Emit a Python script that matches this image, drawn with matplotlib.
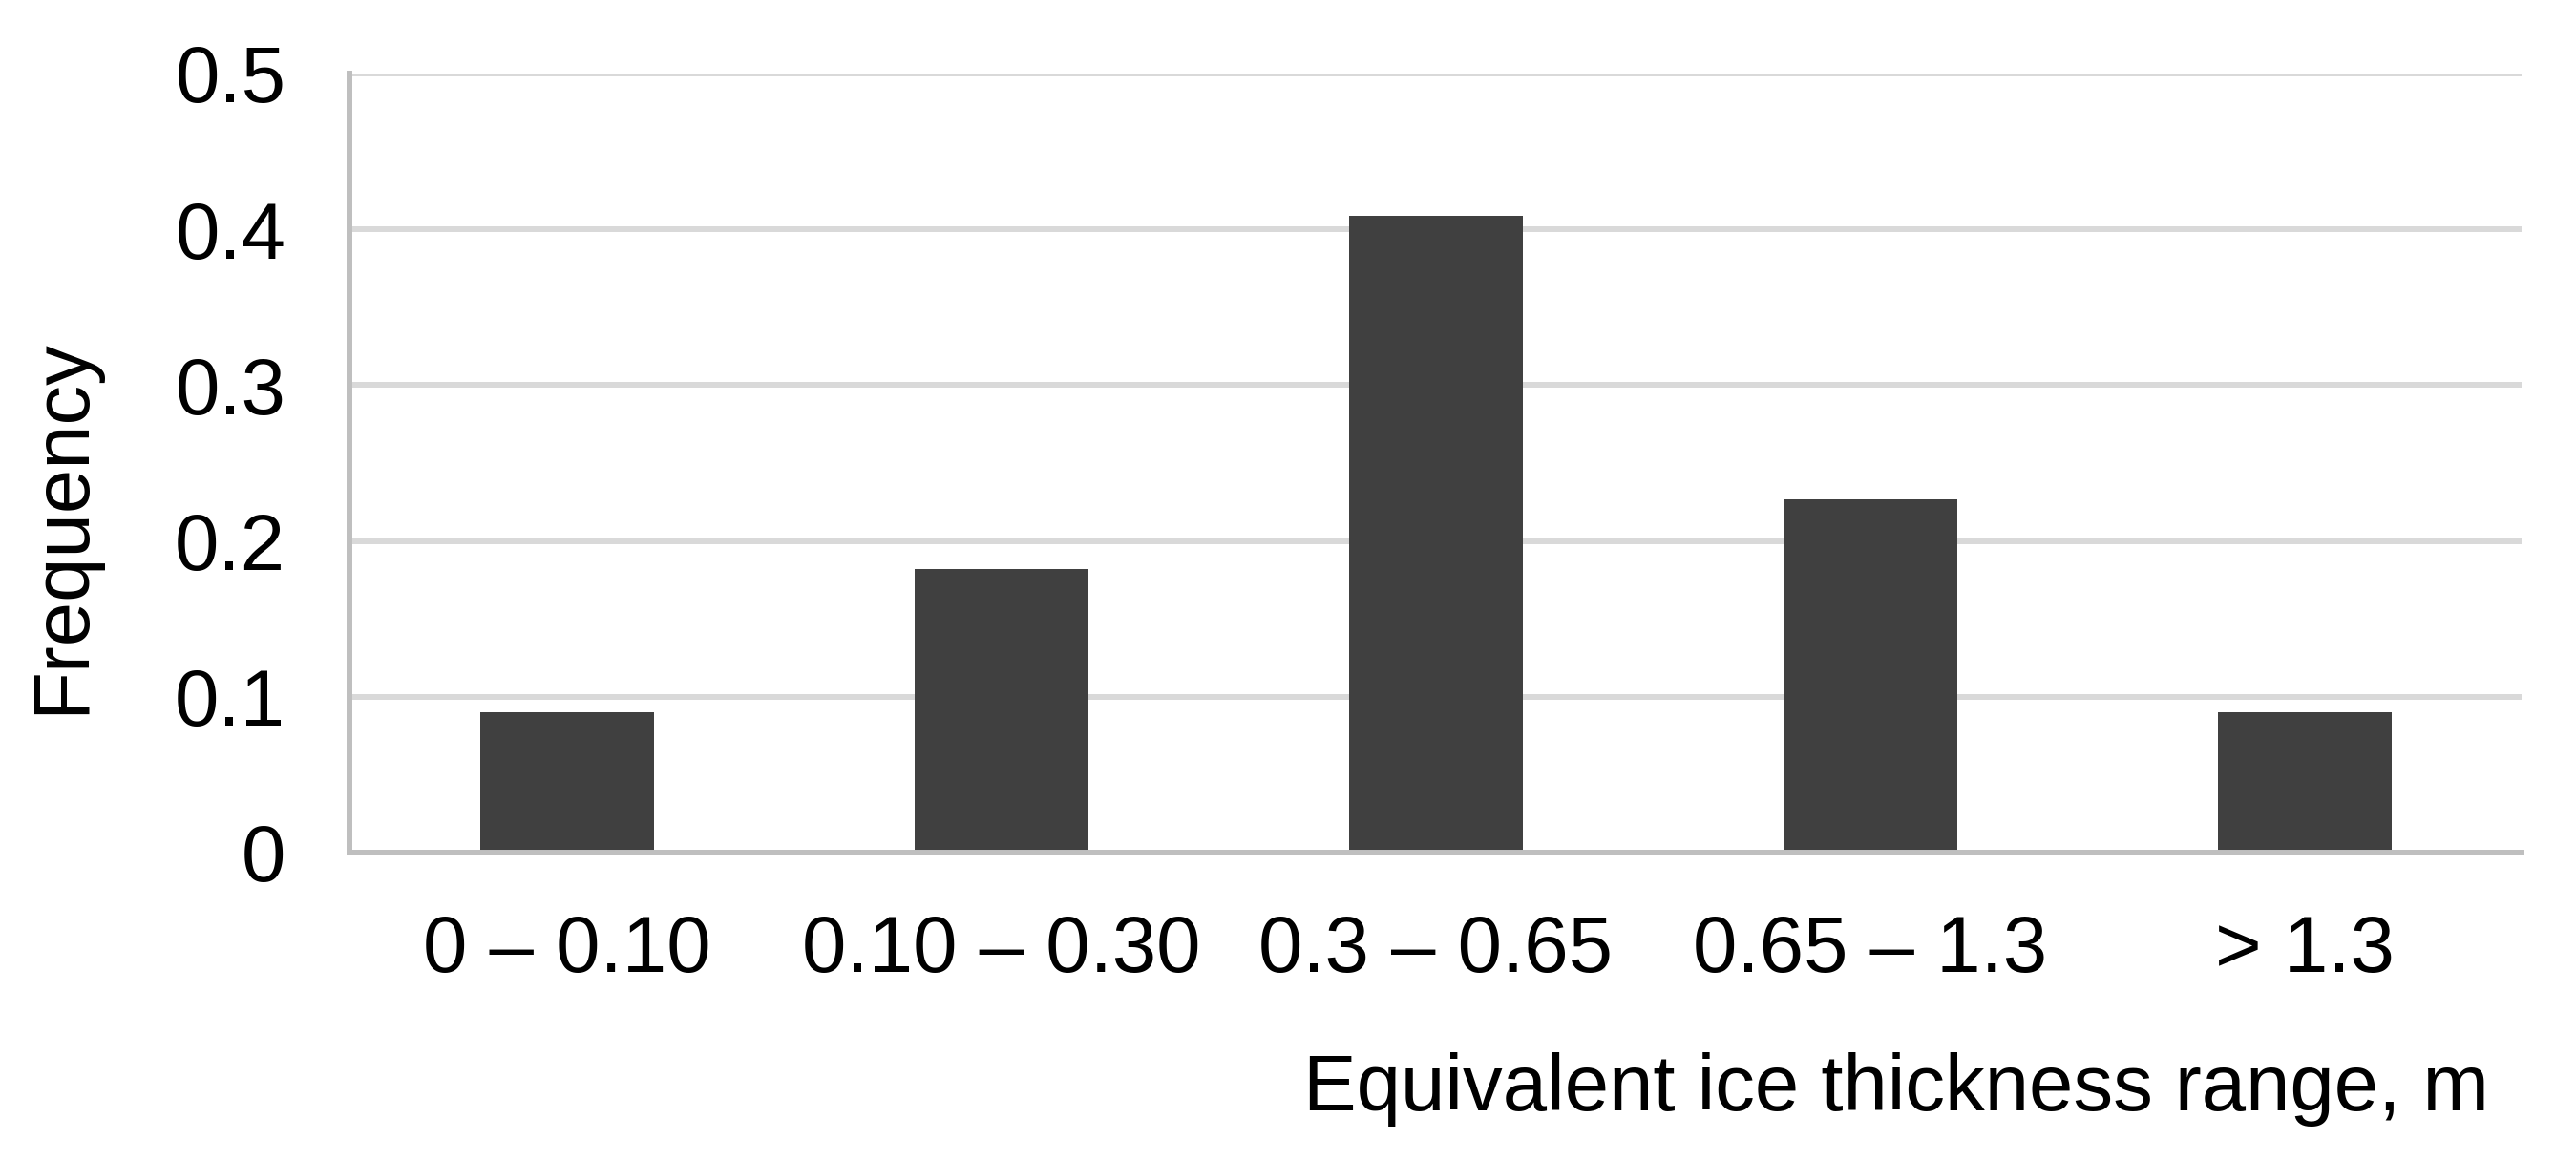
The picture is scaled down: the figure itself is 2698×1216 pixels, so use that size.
import matplotlib
matplotlib.use("Agg")
import matplotlib.pyplot as plt

categories = ["0 – 0.10", "0.10 – 0.30", "0.3 – 0.65", "0.65 – 1.3", "> 1.3"]
frequency = [0.09, 0.182, 0.409, 0.227, 0.09]
yticks = [0, 0.1, 0.2, 0.3, 0.4, 0.5]
ytick_labels = ["0", "0.1", "0.2", "0.3", "0.4", "0.5"]

plt.rcParams['font.family'] = ['Liberation Sans', 'DejaVu Sans']

fig = plt.figure(figsize=(26.98, 12.16), dpi=100)
ax = fig.add_axes([366/2698, 1-893/1216, (2641-366)/2698, (893-77)/1216])

x = list(range(len(categories)))
ax.bar(x, frequency, width=0.4, color="#404040", zorder=3)

ax.set_xlim(-0.5, len(categories) - 0.5)
ax.set_ylim(0, 0.5)
ax.set_yticks(yticks)
ax.set_yticklabels(ytick_labels)
ax.set_xticks(x)
ax.set_xticklabels(categories)

ax.yaxis.grid(True, color="#d9d9d9", linewidth=4.3, zorder=0)
ax.set_axisbelow(True)
for s in ["top", "right"]:
    ax.spines[s].set_visible(False)
for s in ["left", "bottom"]:
    ax.spines[s].set_color("#bfbfbf")
    ax.spines[s].set_linewidth(4.3)
    ax.spines[s].set_zorder(4)

ax.tick_params(axis="y", length=0, pad=48, labelsize=60)
ax.tick_params(axis="x", length=0, pad=46, labelsize=60)

fig.text(2607/2698, 1-1141/1216, "Equivalent ice thickness range, m",
         ha="right", va="center", fontsize=60)
fig.text(65/2698, 1-551/1216, "Frequency", rotation=90,
         ha="center", va="center", fontsize=60)

fig.savefig("out.png", dpi=100)
